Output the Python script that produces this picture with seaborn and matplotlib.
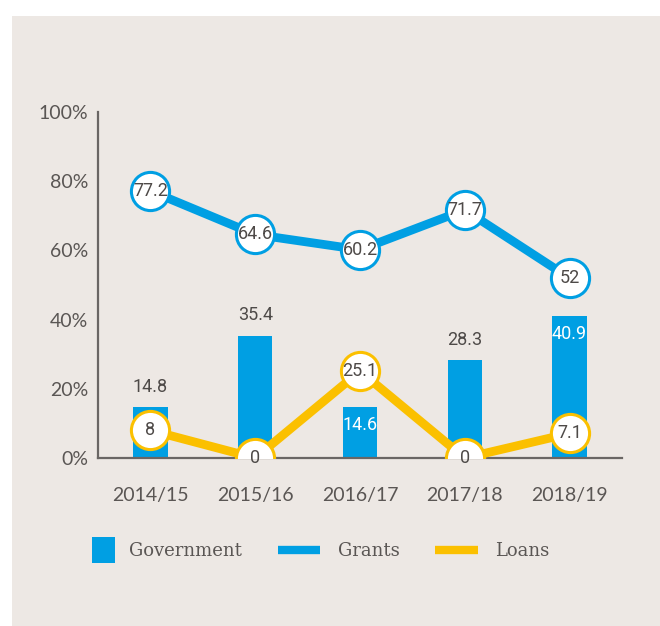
import matplotlib
matplotlib.use("Agg")
import matplotlib.pyplot as plt
from matplotlib.patches import Rectangle, Patch
from matplotlib.lines import Line2D
from matplotlib.legend_handler import HandlerPatch
import seaborn as sns
import pandas as pd

years = ["2014/15", "2015/16", "2016/17", "2017/18", "2018/19"]
government = [14.8, 35.4, 14.6, 28.3, 40.9]
grants = [77.2, 64.6, 60.2, 71.7, 52]
loans = [8, 0, 25.1, 0, 7.1]
gov_label_inside = [False, False, True, False, True]
yticks = [0, 20, 40, 60, 80, 100]
ytick_labels = ["0%", "20%", "40%", "60%", "80%", "100%"]

BLUE = "#009FE3"
YELLOW = "#FBC000"
TEXT = "#5A5654"
NUMTEXT = "#4E4A48"
BG = "#EDE8E4"
AXIS = "#6A6664"

df = pd.DataFrame({"year": years, "government": government,
                   "grants": grants, "loans": loans})

sns.set_theme(style="white")
plt.rcParams["font.family"] = ["Lato", "DejaVu Sans"]

fig = plt.figure(figsize=(6.6, 6.26), dpi=100)
fig.patch.set_facecolor("white")
fig.patches.append(Rectangle((12 / 660, 0), 1 - 12 / 660, 1 - 16 / 626,
                             transform=fig.transFigure, facecolor=BG,
                             edgecolor="none", zorder=-10))

ax = fig.add_axes([98 / 660, 1 - 458 / 626, (622 - 98) / 660, (458 - 112) / 626])
ax.set_facecolor("none")

sns.barplot(data=df, x="year", y="government", color=BLUE, width=0.33,
            saturation=1, ax=ax, zorder=2, linewidth=0, edgecolor="none")

NUMFONT = dict(family=["Roboto", "DejaVu Sans"], fontweight="normal", fontsize=13)

for col, c in (("grants", BLUE), ("loans", YELLOW)):
    sns.pointplot(data=df, x="year", y=col, color=c, errorbar=None,
                  markers="o", linestyles="-", ax=ax,
                  linewidth=6.3, markersize=27.5, markerfacecolor="white",
                  markeredgecolor=c, markeredgewidth=2.2, zorder=3)

for i, v in enumerate(grants):
    ax.text(i, v, f"{v:g}", ha="center", va="center", color=NUMTEXT,
            zorder=5, **NUMFONT)
for i, v in enumerate(loans):
    ax.text(i, v, f"{v:g}", ha="center", va="center", color=NUMTEXT,
            zorder=5, **NUMFONT)
for i, v in enumerate(government):
    if gov_label_inside[i]:
        ax.text(i, v - 2.5, f"{v:g}", ha="center", va="top",
                color="white", zorder=4, **NUMFONT)
    else:
        ax.text(i, v + 3.2, f"{v:g}", ha="center", va="bottom",
                color=NUMTEXT, zorder=4, **NUMFONT)

ax.set_xlim(-0.5, 4.5)
ax.set_ylim(0, 100)
ax.set_yticks(yticks)
ax.set_yticklabels(ytick_labels)
ax.set_xlabel("")
ax.set_ylabel("")
ax.tick_params(axis="both", length=0, labelsize=14, colors=TEXT)
ax.tick_params(axis="y", pad=7)
ax.tick_params(axis="x", pad=21)
for s in ("top", "right"):
    ax.spines[s].set_visible(False)
for s in ("left", "bottom"):
    ax.spines[s].set_color(AXIS)
    ax.spines[s].set_linewidth(1.6)
ax.spines["bottom"].set_zorder(2.5)


def square_patch(legend, orig_handle, xdescent, ydescent, width, height, fontsize):
    h = 18.7
    w = 16.6
    return Rectangle((xdescent + width - w + 2.2, ydescent + (height - h) / 2), w, h)


handles = [Patch(facecolor=BLUE, edgecolor="none", label="Government"),
           Line2D([], [], color=BLUE, linewidth=6, solid_capstyle="butt", label="Grants"),
           Line2D([], [], color=YELLOW, linewidth=6, solid_capstyle="butt", label="Loans")]
leg = fig.legend(handles=handles, loc="center", bbox_to_anchor=(0.469, 1 - 551 / 626),
                 ncol=3, frameon=False, handlelength=2.33, columnspacing=2.0,
                 handletextpad=0.95, prop={"family": "DejaVu Serif", "size": 13},
                 handler_map={Patch: HandlerPatch(patch_func=square_patch)})
for t in leg.get_texts():
    t.set_color(TEXT)

fig.savefig("out.png", dpi=100, facecolor=fig.get_facecolor())
